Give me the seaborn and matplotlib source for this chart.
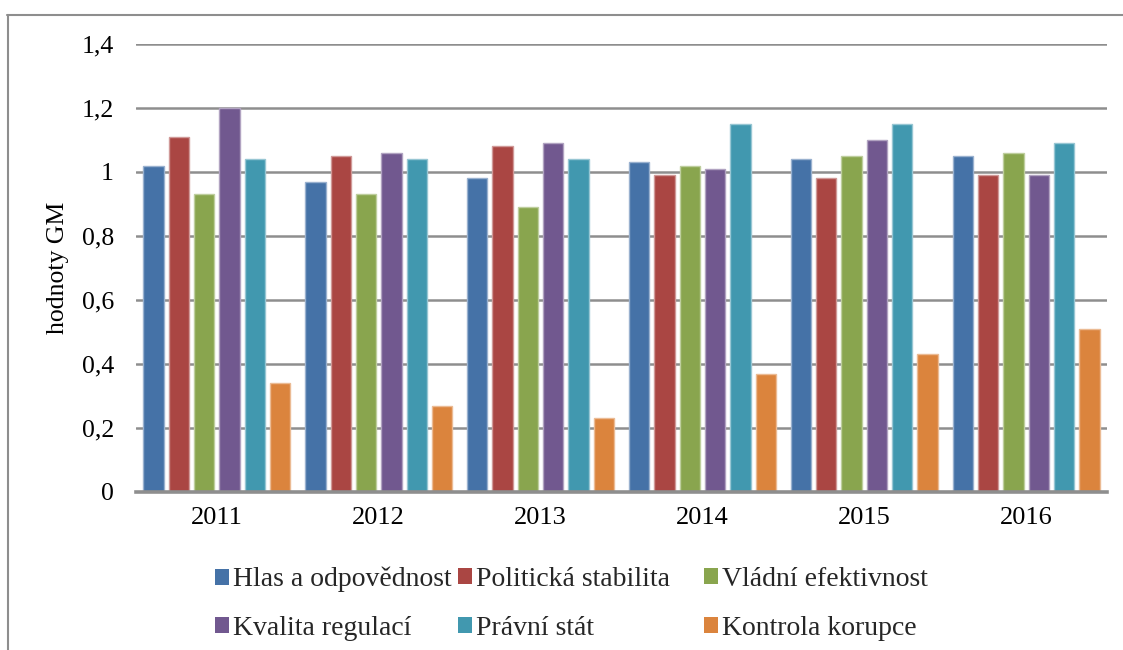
import matplotlib
matplotlib.use("Agg")
import matplotlib.pyplot as plt
import seaborn as sns
import pandas as pd
from matplotlib.lines import Line2D
import matplotlib.colors as mcolors

years = ["2011", "2012", "2013", "2014", "2015", "2016"]
series = ["Hlas a odpovědnost", "Politická stabilita", "Vládní efektivnost",
          "Kvalita regulací", "Právní stát", "Kontrola korupce"]
hlas = [1.02, 0.97, 0.98, 1.03, 1.04, 1.05]
politicka = [1.11, 1.05, 1.08, 0.99, 0.98, 0.99]
vladni = [0.93, 0.93, 0.89, 1.02, 1.05, 1.06]
kvalita = [1.20, 1.06, 1.09, 1.01, 1.10, 0.99]
pravni = [1.04, 1.04, 1.04, 1.15, 1.15, 1.09]
korupce = [0.34, 0.27, 0.23, 0.37, 0.43, 0.51]
colors = ["#4572A7", "#AA4643", "#89A54E", "#71588F", "#4198AF", "#DB843D"]
yticks = [0, 0.2, 0.4, 0.6, 0.8, 1.0, 1.2, 1.4]
ytick_labels = ["0", "0,2", "0,4", "0,6", "0,8", "1", "1,2", "1,4"]

values = [hlas, politicka, vladni, kvalita, pravni, korupce]
rows = []
for s, vals in zip(series, values):
    for y, v in zip(years, vals):
        rows.append({"rok": y, "ukazatel": s, "hodnota": v})
df = pd.DataFrame(rows)

FONT = "Liberation Serif"
sns.set_theme(style="white")
plt.rcParams["font.family"] = [FONT, "DejaVu Serif"]

W, H = 1123, 650
fig = plt.figure(figsize=(W / 100, H / 100), dpi=100)
ax = fig.add_axes([136 / W, 1 - 492 / H, 971 / W, 448 / H])

sns.barplot(data=df, x="rok", y="hodnota", hue="ukazatel", order=years,
            hue_order=series, palette=colors, width=0.94, gap=0.2,
            saturation=1, ax=ax, legend=True)

for p in ax.patches:
    fc = mcolors.to_rgb(p.get_facecolor())
    light = tuple(c + (1 - c) * 0.45 for c in fc)
    p.set_edgecolor(light)
    p.set_linewidth(1.0)

handles, labels = ax.get_legend_handles_labels()
ax.get_legend().remove()

ax.set_xlim(-0.5, 5.5)
ax.set_ylim(0, 1.4)
ax.set_yticks(yticks)
ax.set_yticklabels(ytick_labels, family=FONT, fontsize=18.5, color="black")
ax.set_xticks(range(len(years)))
ax.set_xticklabels(years, family=FONT, fontsize=19, color="black")
for y in yticks[1:]:
    ax.axhline(y, color="#8E8E8E", lw=1.8, zorder=0.5)

for side in ["left", "right", "top"]:
    ax.spines[side].set_visible(False)
ax.spines["bottom"].set_color("#8E8E8E")
ax.spines["bottom"].set_linewidth(2.6)
ax.spines["bottom"].set_zorder(3)

ax.tick_params(axis="y", left=False, length=0, pad=16)
ax.tick_params(axis="x", bottom=False, length=0, pad=11)
ax.set_xlabel("")
ax.set_ylabel("hodnoty GM", family=FONT, fontsize=18.5, color="black", labelpad=9)
ax.set_facecolor("white")

# legend: three columns, two rows (row-major order as in the original)
col_x = [215, 458, 704]
for ci in range(3):
    idx = [ci, ci + 3]
    leg = fig.legend([handles[i] for i in idx], [labels[i] for i in idx],
                     loc="center left",
                     bbox_to_anchor=(col_x[ci] / W, 1 - 604 / H),
                     frameon=False, prop={"family": FONT, "size": 20},
                     borderpad=0, borderaxespad=0,
                     handlelength=0.5, handleheight=0.5, handletextpad=0.15,
                     labelspacing=0.85)
    for h in leg.legend_handles:
        h.set_edgecolor("none")

# outer chart frame
fig.add_artist(Line2D([7.5 / W, 7.5 / W], [0, 1 - 15 / H], transform=fig.transFigure,
                      color="#8E8E8E", lw=1.5))
fig.add_artist(Line2D([7 / W, 1], [1 - 15 / H, 1 - 15 / H], transform=fig.transFigure,
                      color="#8E8E8E", lw=1.5))

fig.savefig("out.png", dpi=100)
